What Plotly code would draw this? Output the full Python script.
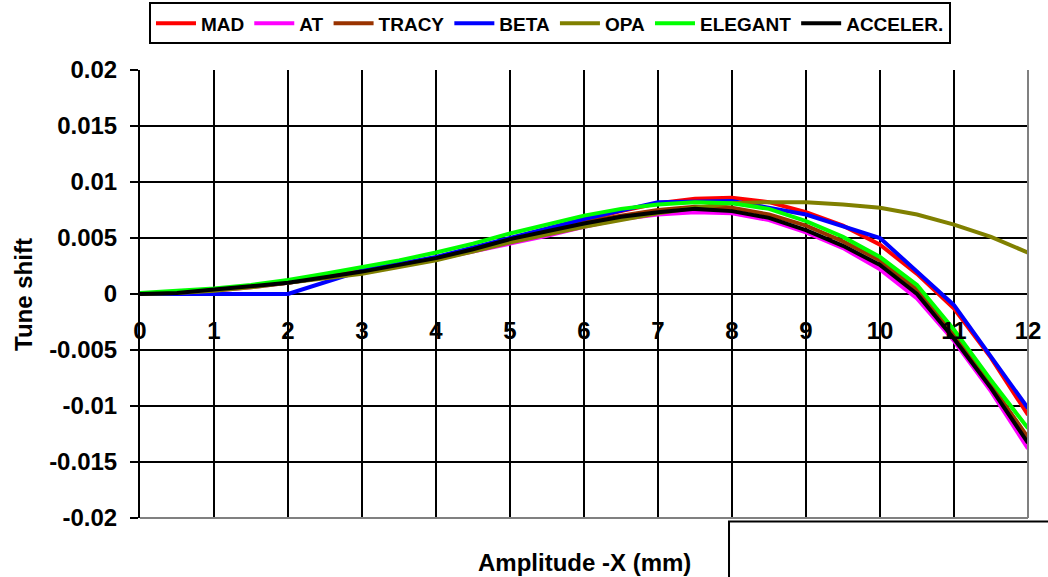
import plotly.graph_objects as go

amp = [0, 0.5, 1, 1.5, 2, 2.5, 3, 3.5, 4, 4.5, 5, 5.5, 6, 6.5, 7, 7.5, 8, 8.5, 9, 9.5, 10, 10.5, 11, 11.5, 12]
amp_int = [0, 1, 2, 3, 4, 5, 6, 7, 8, 9, 10, 11, 12]

mad = [0, .0001, .0004, .0007, .0011, .0016, .0021, .0026, .0032, .0040, .0049, .0057, .0066, .0074, .0081, .0085, .0086, .0082, .0073, .0061, .0044, .0018, -.0013, -.0057, -.0108]
at = [0, .0001, .0003, .0006, .0010, .0015, .0020, .0025, .0031, .0038, .0045, .0052, .0060, .0067, .0071, .0073, .0072, .0066, .0055, .0041, .0022, -.0004, -.0042, -.0087, -.0138]
tracy = [0, .0001, .0004, .0007, .0010, .0015, .0020, .0026, .0032, .0040, .0048, .0056, .0064, .0070, .0075, .0078, .0077, .0071, .0061, .0047, .0030, .0004, -.0037, -.0081, -.0128]
beta = [0, 0, 0, .0021, .0033, .0050, .0067, .0082, .0083, .0071, .0050, -.0010, -.0102]
opa = [0, .0001, .0003, .0006, .0010, .0014, .0018, .0024, .0030, .0038, .0046, .0053, .0060, .0066, .0072, .0077, .0081, .0082, .0082, .0080, .0077, .0071, .0062, .0051, .0037]
elegant = [.0001, .0003, .0005, .0008, .00125, .0018, .0024, .0030, .0037, .0045, .0054, .0062, .0070, .0076, .0080, .0082, .0081, .0076, .0065, .0051, .0033, .0008, -.0032, -.0077, -.0120]
acceler = [0, .0001, .0004, .0007, .0010, .0015, .0020, .0026, .0032, .0040, .0049, .0056, .0063, .0069, .0073, .0076, .0074, .0068, .0057, .0043, .0026, .0000, -.0040, -.0084, -.0133]

x_ticks = [0, 1, 2, 3, 4, 5, 6, 7, 8, 9, 10, 11, 12]
y_ticks = [-0.02, -0.015, -0.01, -0.005, 0, 0.005, 0.01, 0.015, 0.02]
y_labels = ["-0.02", "-0.015", "-0.01", "-0.005", "0", "0.005", "0.01", "0.015", "0.02"]

series = [
    ("MAD", amp, mad, "#FF0000"),
    ("AT", amp, at, "#FF00FF"),
    ("TRACY", amp, tracy, "#993300"),
    ("BETA", amp_int, beta, "#0000FF"),
    ("OPA", amp, opa, "#808000"),
    ("ELEGANT", amp, elegant, "#00FF00"),
    ("ACCELER.", amp, acceler, "#000000"),
]

FONT = "Liberation Sans, Arial, sans-serif"

fig = go.Figure()
for name, xs, ys, col in series:
    fig.add_trace(go.Scatter(x=xs, y=ys, mode="lines", name=name,
                             line=dict(color=col, width=4)))

fig.update_layout(
    width=1048, height=577,
    margin=dict(l=140, r=20, t=70, b=59, autoexpand=False),
    paper_bgcolor="white", plot_bgcolor="white",
    font=dict(family=FONT, color="black"),
    showlegend=True,
    legend=dict(orientation="h", x=0.4617, y=1.104, xanchor="center", yanchor="middle",
                font=dict(family=FONT, size=19, weight="bold", color="black"),
                bordercolor="black", borderwidth=2, bgcolor="white",
                itemwidth=40, tracegroupgap=0),
    xaxis=dict(range=[0, 12], tickvals=x_ticks, ticktext=[str(v) for v in x_ticks],
               anchor="free", position=0.5, showline=False, ticks="",
               ticklabelstandoff=20, automargin=False,
               tickfont=dict(family=FONT, size=24, weight="bold", color="black"),
               showgrid=True, gridcolor="black", gridwidth=1.5, zeroline=False),
    yaxis=dict(range=[-0.02, 0.02], tickvals=y_ticks, ticktext=y_labels,
               showline=True, linecolor="black", linewidth=2, automargin=False,
               ticks="outside", ticklen=8, tickcolor="black", tickwidth=1.5,
               ticklabelstandoff=8,
               tickfont=dict(family=FONT, size=24, weight="bold", color="black"),
               showgrid=True, gridcolor="black", gridwidth=1.5, zeroline=False),
    annotations=[
        dict(text="Amplitude -X (mm)", xref="paper", yref="paper", x=0.5, y=-0.1,
             xanchor="center", yanchor="middle", showarrow=False,
             font=dict(family=FONT, size=24, weight="bold", color="black")),
        dict(text="Tune shift", xref="paper", yref="paper", x=-0.1318, y=0.5,
             xanchor="center", yanchor="middle", showarrow=False, textangle=-90,
             font=dict(family=FONT, size=24, weight="bold", color="black")),
    ],
    shapes=[
        dict(type="line", xref="paper", yref="paper", x0=1, x1=1, y0=0, y1=1,
             line=dict(color="#808080", width=2), layer="above"),
        dict(type="line", xref="paper", yref="paper", x0=0, x1=1, y0=0, y1=0,
             line=dict(color="#808080", width=2), layer="above"),
        dict(type="rect", xref="paper", yref="paper", x0=0.6633, x1=1.1, y0=-0.3, y1=-0.0078,
             line=dict(color="black", width=2), fillcolor="rgba(0,0,0,0)"),
    ],
)

fig.write_html("out.html", config={"displayModeBar": False},
               post_script="document.body.style.margin='0';document.body.style.overflow='hidden';")
